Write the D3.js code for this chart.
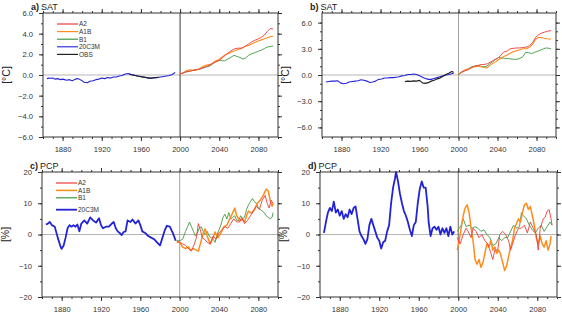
<!DOCTYPE html>
<html>
<head>
<meta charset="utf-8">
<script src="https://cdn.jsdelivr.net/npm/d3@7"></script>
<style>
  html, body { margin: 0; padding: 0; background: #fff; }
  svg { display: block; font-family: "Liberation Sans", Arial, sans-serif; }
</style>
</head>
<body>
<div id="container"></div>
<script>
// ---- data: [year, value] ----
const xTicks = [1880, 1920, 1960, 2000, 2040, 2080];
const legendNames = ['A2', 'A1B', 'B1', '20C3M', 'OBS'];

// a) SAT
const satA_20c3m = [[1864,-0.35],[1866,-0.3],[1868,-0.32],[1870,-0.3],[1872,-0.4],[1875,-0.35],[1878,-0.45],[1880,-0.4],[1882,-0.45],[1884,-0.5],[1887,-0.45],[1890,-0.55],[1893,-0.4],[1896,-0.35],[1899,-0.5],[1902,-0.7],[1905,-0.75],[1908,-0.6],[1911,-0.55],[1914,-0.45],[1917,-0.4],[1920,-0.3],[1923,-0.35],[1926,-0.25],[1929,-0.3],[1932,-0.2],[1935,-0.2],[1938,-0.1],[1941,-0.05],[1944,0.1],[1947,0.15],[1950,0.05],[1953,0.0],[1956,-0.1],[1959,-0.15],[1962,-0.2],[1965,-0.25],[1968,-0.3],[1971,-0.3],[1974,-0.25],[1977,-0.25],[1980,-0.2],[1983,-0.15],[1986,-0.1],[1989,-0.05],[1992,0.05],[1995,0.25]];
const satA_obs = [[1948,0.1],[1951,0.0],[1954,-0.05],[1957,-0.1],[1960,-0.15],[1963,-0.2],[1966,-0.25],[1969,-0.3],[1972,-0.28],[1975,-0.25],[1978,-0.22]];
const satA_a2 = [[2000,0.1],[2003,0.2],[2006,0.3],[2010,0.35],[2013,0.45],[2016,0.5],[2020,0.6],[2023,0.7],[2026,0.8],[2030,0.95],[2033,1.1],[2036,1.25],[2040,1.4],[2043,1.65],[2046,1.9],[2050,2.2],[2053,2.4],[2056,2.55],[2060,2.6],[2063,2.6],[2066,2.75],[2070,3.0],[2073,3.2],[2076,3.35],[2080,3.5],[2083,3.65],[2086,3.85],[2089,4.2],[2092,4.5],[2095,4.45]];
const satA_a1b = [[2000,0.1],[2003,0.2],[2006,0.4],[2010,0.5],[2013,0.45],[2016,0.45],[2020,0.6],[2023,0.8],[2026,0.95],[2030,1.0],[2033,1.15],[2036,1.35],[2040,1.5],[2043,1.75],[2046,1.95],[2050,2.1],[2053,2.25],[2056,2.35],[2060,2.5],[2063,2.6],[2066,2.75],[2070,2.85],[2073,3.0],[2076,3.15],[2080,3.3],[2083,3.4],[2086,3.5],[2089,3.6],[2092,3.7],[2095,3.75]];
const satA_b1 = [[2000,0.1],[2003,0.2],[2006,0.3],[2010,0.4],[2013,0.45],[2016,0.5],[2020,0.55],[2023,0.65],[2026,0.75],[2030,0.85],[2033,1.05],[2036,1.25],[2040,1.45],[2043,1.4],[2045,1.35],[2048,1.5],[2051,1.65],[2055,1.9],[2058,1.8],[2061,1.7],[2064,1.55],[2067,1.65],[2070,1.9],[2073,2.05],[2076,2.15],[2080,2.3],[2083,2.4],[2086,2.55],[2089,2.7],[2092,2.75],[2095,2.8]];

// b) SAT
const satB_20c3m = [[1864,-0.8],[1867,-0.75],[1870,-0.7],[1873,-0.7],[1876,-0.65],[1879,-0.9],[1882,-1.0],[1885,-0.95],[1888,-0.8],[1891,-0.75],[1894,-0.7],[1897,-0.65],[1900,-0.55],[1903,-0.6],[1906,-0.7],[1909,-0.85],[1912,-0.8],[1915,-0.7],[1918,-0.5],[1921,-0.45],[1924,-0.35],[1927,-0.35],[1930,-0.3],[1933,-0.3],[1936,-0.25],[1939,-0.2],[1942,-0.1],[1945,-0.05],[1948,0.05],[1951,0.05],[1954,0.12],[1957,0.05],[1960,-0.1],[1963,-0.25],[1966,-0.4],[1969,-0.5],[1972,-0.5],[1975,-0.4],[1978,-0.3],[1981,-0.2],[1984,-0.1],[1987,0.0],[1990,0.05],[1993,0.15],[1995,0.2]];
const satB_obs = [[1945,-0.75],[1948,-0.7],[1951,-0.72],[1954,-0.68],[1957,-0.7],[1960,-0.62],[1963,-0.9],[1966,-0.95],[1969,-0.88],[1972,-0.7],[1975,-0.6],[1978,-0.45],[1981,-0.35],[1984,-0.15],[1987,0.05],[1990,0.2],[1993,0.4],[1995,0.3]];
const satB_a2 = [[2000,0.05],[2003,0.3],[2006,0.45],[2010,0.6],[2013,0.85],[2016,1.0],[2020,1.1],[2023,1.2],[2026,1.2],[2030,1.3],[2033,1.5],[2036,1.7],[2040,1.9],[2043,2.2],[2046,2.6],[2050,2.75],[2053,3.0],[2056,3.05],[2060,3.1],[2063,3.1],[2066,3.15],[2070,3.2],[2073,3.4],[2076,3.7],[2079,4.3],[2082,4.6],[2085,4.8],[2088,4.9],[2091,5.0],[2095,5.1]];
const satB_a1b = [[2000,0.05],[2003,0.3],[2006,0.55],[2010,0.7],[2013,0.8],[2016,0.95],[2020,1.0],[2023,0.95],[2026,0.85],[2029,0.8],[2032,1.1],[2035,1.3],[2038,1.5],[2041,1.75],[2044,1.95],[2047,2.15],[2050,2.3],[2053,2.5],[2056,2.65],[2060,2.8],[2063,2.9],[2066,3.0],[2070,3.0],[2073,3.2],[2076,3.5],[2079,4.1],[2082,4.3],[2085,4.3],[2088,4.2],[2091,4.15],[2095,4.1]];
const satB_b1 = [[2000,0.05],[2003,0.35],[2006,0.5],[2010,0.7],[2013,0.9],[2016,1.0],[2020,1.1],[2023,1.0],[2026,0.95],[2029,1.0],[2032,1.3],[2035,1.5],[2038,1.8],[2041,2.0],[2044,1.95],[2047,1.9],[2050,1.9],[2053,1.85],[2056,1.8],[2060,1.8],[2063,1.9],[2066,2.1],[2069,2.6],[2072,2.55],[2075,2.45],[2078,2.6],[2081,2.7],[2084,2.85],[2087,3.0],[2090,3.1],[2093,3.05],[2095,3.0]];

// c) PCP
const pcpC_20c3m = [[1864,3.2],[1866,3.5],[1868,4.0],[1870,3.0],[1873,2.5],[1876,-1],[1879,-4],[1880,-4.6],[1882,-3.5],[1884,-1],[1886,2],[1888,3],[1890,2.5],[1892,3],[1894,2.5],[1896,3.2],[1898,1.0],[1900,3.5],[1903,4.5],[1906,3.5],[1909,5.5],[1912,4.5],[1915,3.8],[1918,5.2],[1920,3.0],[1922,2.0],[1925,2.5],[1928,2.5],[1931,3.5],[1933,4.0],[1935,2.0],[1937,1.0],[1939,0.5],[1941,-0.2],[1943,0.8],[1945,1.0],[1947,4.5],[1950,4.0],[1952,4.8],[1955,3.5],[1958,4.5],[1960,3.0],[1962,1.0],[1965,0.5],[1968,-0.5],[1971,-1.0],[1974,-1.5],[1977,-2.5],[1980,-3.5],[1982,-1.5],[1985,1.5],[1987,2.8],[1990,2.5],[1993,0.5],[1996,-2]];
const pcpC_a2 = [[1997,-2],[2000,-2.5],[2003,-3],[2006,-3.5],[2009,-4.5],[2012,-5.3],[2015,-3],[2017,-1],[2019,3.5],[2021,1.5],[2023,-1],[2025,-1.5],[2028,-2.5],[2031,-3],[2034,-0.5],[2037,-1.5],[2040,0.5],[2043,1.5],[2046,2.5],[2049,2],[2052,3.5],[2055,5],[2058,4],[2061,4],[2063,5.5],[2066,3.5],[2069,4.5],[2072,6],[2075,7.5],[2078,9],[2081,8],[2084,11],[2087,12.5],[2089,10],[2091,8.5],[2093,11],[2095,10]];
const pcpC_a1b = [[1997,-2.5],[2000,-2.5],[2003,-4],[2006,-4.5],[2009,-4],[2011,-5],[2014,-4.5],[2017,-5],[2019,-5.3],[2021,-3],[2024,0.5],[2026,1.8],[2028,-0.5],[2031,-3],[2034,-1],[2036,0.8],[2039,-1],[2042,0.5],[2045,2.5],[2048,3],[2051,5],[2054,7],[2056,8.5],[2058,6],[2061,4.5],[2064,4.8],[2066,4],[2068,6],[2070,7.5],[2073,6.8],[2076,8],[2079,10],[2082,11],[2085,12.5],[2088,14.5],[2090,14],[2092,11],[2094,9],[2095,10]];
const pcpC_b1 = [[1997,-2],[2000,-2],[2003,-1.5],[2006,1],[2008,2.5],[2010,4],[2012,2.5],[2014,1],[2016,-0.5],[2018,0.5],[2020,2],[2022,2.5],[2024,1],[2026,0],[2028,1],[2030,-0.5],[2032,-1],[2034,-1.5],[2036,-2.5],[2038,0],[2040,1.5],[2042,3],[2044,5.5],[2046,6.5],[2048,5],[2050,7],[2052,5],[2054,5.5],[2056,6],[2058,4.5],[2060,4.5],[2062,6],[2064,5],[2066,5.5],[2068,8],[2070,9.5],[2072,10.5],[2074,11.5],[2076,10.5],[2078,10],[2080,8.5],[2082,8],[2084,7.5],[2086,7],[2088,6],[2090,5.5],[2092,5],[2094,5.5],[2095,7]];

// d) PCP
const pcpD_20c3m = [[1864,0.5],[1866,4],[1868,7],[1870,8.5],[1872,7.5],[1874,10.5],[1876,7],[1878,8],[1880,6],[1882,7.5],[1884,5],[1886,6.5],[1888,5.5],[1890,8],[1892,6.5],[1894,8.5],[1896,9],[1898,5],[1900,1],[1902,-0.5],[1904,-1.5],[1906,-3],[1908,-1.5],[1910,3],[1912,5],[1914,3],[1916,1],[1918,-1],[1920,-2],[1922,-4.5],[1924,-2.5],[1926,-2],[1928,1],[1930,3],[1932,10],[1934,15],[1936,18],[1937,20],[1939,17],[1941,13],[1943,10],[1945,7.5],[1947,6],[1949,4],[1951,1.5],[1953,-0.5],[1955,3],[1957,4],[1959,10],[1961,14.5],[1963,17],[1965,15],[1967,15],[1969,9],[1970,4],[1972,-0.5],[1974,2],[1976,2.5],[1978,1.5],[1980,2.5],[1982,0],[1984,2],[1986,0.5],[1988,2],[1990,-0.5],[1992,2.5],[1994,0],[1996,1]];
const pcpD_a2 = [[1999,-1],[2002,-3],[2005,0],[2008,2],[2010,1],[2013,-1],[2015,2],[2018,1],[2021,-1],[2024,0],[2027,-2],[2030,-3],[2033,-6],[2035,-8],[2037,-5],[2040,-5],[2042,0],[2045,1],[2048,0],[2051,-2],[2053,-5],[2055,-3],[2058,0],[2061,2],[2064,2],[2067,3],[2070,0.5],[2073,4],[2076,2],[2079,0],[2081,-5],[2083,2],[2086,5],[2088,5.5],[2090,7.5],[2092,8],[2094,5],[2095,3]];
const pcpD_a1b = [[1999,-5],[2001,-2],[2003,2],[2005,6],[2007,8.5],[2009,9.5],[2011,7],[2013,2],[2015,-2],[2017,-8],[2019,-9.5],[2021,-8],[2023,-10.5],[2025,-9],[2027,-6],[2029,-3],[2031,-4],[2033,-2],[2035,-5],[2037,-4],[2039,-6],[2041,-5],[2043,-6.5],[2045,-9],[2047,-11.5],[2049,-10],[2051,-7],[2053,-4],[2055,-2],[2057,2],[2059,3.5],[2061,5],[2063,4],[2065,7],[2067,9.5],[2069,10],[2071,8],[2073,9],[2075,6],[2077,3],[2079,-1],[2081,-3],[2083,-0.5],[2085,-3],[2087,-4],[2089,-2],[2091,-5],[2093,-3],[2094,-0.5]];
const pcpD_b1 = [[1999,1],[2001,2],[2003,3],[2005,5],[2008,2.5],[2011,3],[2014,2],[2017,2.5],[2020,2],[2023,1],[2026,1.5],[2029,0],[2032,-1],[2035,-3.5],[2038,-3],[2041,-1],[2044,-2],[2047,-1],[2050,-1],[2053,1],[2056,3],[2059,2],[2062,2.5],[2064,7],[2066,6],[2069,5],[2072,3],[2075,1.5],[2078,0.5],[2081,2],[2084,3],[2087,1],[2090,2.5],[2093,4],[2095,3]];

// ---- styles ----
const colors = { A2: '#ee3b3b', A1B: '#ff8c1a', B1: '#3f9a3f', '20C3M': '#2323d6', OBS: '#222222' };

const panels = [
  { tag: 'a)', name: 'SAT', unit: '[°C]', left: 43, right: 278, top: 13, bottom: 137,
    yDom: [-6, 6], yTicks: [-6, -4, -2, 0, 2, 4, 6], yMinor: 1, fmt: d3.format('.1f'),
    midColor: '#222', hist: satA_20c3m, obs: satA_obs, a2: satA_a2, a1b: satA_a1b, b1: satA_b1,
    histW: 1.1, legend: { x: 57, y: 24, dy: 7.6, names: legendNames } },
  { tag: 'b)', name: 'SAT', unit: '[°C]', left: 322, right: 556, top: 13, bottom: 137,
    yDom: [-7.1, 7.1], yTicks: [-6, -3, 0, 3, 6], yMinor: 1, fmt: d3.format('.1f'),
    midColor: '#999', hist: satB_20c3m, obs: satB_obs, a2: satB_a2, a1b: satB_a1b, b1: satB_b1,
    histW: 1.1 },
  { tag: 'c)', name: 'PCP', unit: '[%]', left: 42, right: 278, top: 172, bottom: 297,
    yDom: [-20, 20], yTicks: [-20, -10, 0, 10, 20], yMinor: 5, fmt: d3.format('d'),
    midColor: '#999', hist: pcpC_20c3m, a2: pcpC_a2, a1b: pcpC_a1b, b1: pcpC_b1,
    histW: 1.8, legend: { x: 56, y: 183, dy: 7.4, names: legendNames.slice(0, 4), gapLast: 4.5 } },
  { tag: 'd)', name: 'PCP', unit: '[%]', left: 320, right: 557, top: 172, bottom: 297,
    yDom: [-20, 20], yTicks: [-20, -10, 0, 10, 20], yMinor: 5, fmt: d3.format('d'),
    midColor: '#555', hist: pcpD_20c3m, a2: pcpD_a2, a1b: pcpD_a1b, b1: pcpD_b1,
    histW: 1.8 }
];

const svg = d3.select('#container').append('svg')
  .attr('width', 562).attr('height', 316);

panels.forEach(p => {
  const x = d3.scaleLinear().domain([1860, 2100]).range([p.left, p.right]);
  const y = d3.scaleLinear().domain(p.yDom).range([p.bottom, p.top]);
  const g = svg.append('g');

  // zero line and year 2000 line
  g.append('line')
    .attr('x1', p.left).attr('x2', p.right).attr('y1', y(0)).attr('y2', y(0))
    .attr('stroke', '#b5b5b5').attr('stroke-width', 1);
  g.append('line')
    .attr('x1', x(2000)).attr('x2', x(2000)).attr('y1', p.top).attr('y2', p.bottom)
    .attr('stroke', p.midColor).attr('stroke-width', 0.9);

  // series
  const line = d3.line().x(d => x(d[0])).y(d => y(d[1]));
  const isPcp = p.name === 'PCP';
  const draw = (data, color, w) => g.append('path').datum(data)
    .attr('fill', 'none').attr('stroke', color).attr('stroke-width', w)
    .attr('stroke-linejoin', 'round').attr('d', line);
  draw(p.hist, colors['20C3M'], p.histW);
  if (p.obs) draw(p.obs, colors.OBS, 1.2);
  draw(p.b1, colors.B1, 0.9);
  draw(p.a1b, colors.A1B, isPcp ? 1.5 : 1.1);
  draw(p.a2, colors.A2, 0.9);

  // frame
  g.append('rect')
    .attr('x', p.left).attr('y', p.top)
    .attr('width', p.right - p.left).attr('height', p.bottom - p.top)
    .attr('fill', 'none').attr('stroke', '#333').attr('stroke-width', 1);

  // axes: ticks outward on all four sides
  const yMinorTicks = d3.range(p.yTicks[0], p.yTicks[p.yTicks.length - 1] + 1e-9, p.yMinor);
  const xMinorTicks = d3.range(1860, 2101, 10);
  const axStyle = sel => {
    sel.select('.domain').remove();
    sel.selectAll('line').attr('stroke', '#333');
    sel.selectAll('text').attr('fill', '#333').style('font-size', '7.6px')
      .style('font-family', '"Liberation Sans", Arial, sans-serif');
  };
  g.append('g').attr('transform', `translate(0,${p.bottom})`)
    .call(d3.axisBottom(x).tickValues(xMinorTicks).tickSize(2).tickFormat(''))
    .call(axStyle);
  g.append('g').attr('transform', `translate(0,${p.bottom})`)
    .call(d3.axisBottom(x).tickValues(xTicks).tickSize(4).tickPadding(6).tickFormat(d3.format('d')))
    .call(axStyle);
  g.append('g').attr('transform', `translate(0,${p.top})`)
    .call(d3.axisTop(x).tickValues(xMinorTicks).tickSize(2).tickFormat(''))
    .call(axStyle);
  g.append('g').attr('transform', `translate(0,${p.top})`)
    .call(d3.axisTop(x).tickValues(xTicks).tickSize(4).tickFormat(''))
    .call(axStyle);
  g.append('g').attr('transform', `translate(${p.left},0)`)
    .call(d3.axisLeft(y).tickValues(yMinorTicks).tickSize(2).tickFormat(''))
    .call(axStyle);
  g.append('g').attr('transform', `translate(${p.left},0)`)
    .call(d3.axisLeft(y).tickValues(p.yTicks).tickSize(4).tickPadding(6).tickFormat(p.fmt))
    .call(axStyle);
  g.append('g').attr('transform', `translate(${p.right},0)`)
    .call(d3.axisRight(y).tickValues(yMinorTicks).tickSize(2).tickFormat(''))
    .call(axStyle);
  g.append('g').attr('transform', `translate(${p.right},0)`)
    .call(d3.axisRight(y).tickValues(p.yTicks).tickSize(4).tickFormat(''))
    .call(axStyle);

  // title
  const t = g.append('text').attr('x', p.left - 12).attr('y', p.top - 3.5)
    .style('font-size', '9px').attr('fill', '#222');
  t.append('tspan').style('font-weight', 'bold').text(p.tag);
  t.append('tspan').attr('dx', 2).text(p.name);

  // y axis label
  g.append('text')
    .attr('transform', `translate(${p.left - 33},${(p.top + p.bottom) / 2}) rotate(-90)`)
    .attr('text-anchor', 'middle').style('font-size', '10.5px').attr('fill', '#222')
    .text(p.unit);

  // legend
  if (p.legend) {
    const L = p.legend;
    L.names.forEach((n, i) => {
      const yy = L.y + i * L.dy + (L.gapLast && i === L.names.length - 1 ? L.gapLast : 0);
      const w = n === '20C3M' ? p.histW : (n === 'A1B' && isPcp ? 1.5 : 1.2);
      g.append('line').attr('x1', L.x).attr('x2', L.x + 21).attr('y1', yy).attr('y2', yy)
        .attr('stroke', colors[n]).attr('stroke-width', w);
      g.append('text').attr('x', L.x + 22).attr('y', yy + 2.3)
        .style('font-size', '6.5px').attr('fill', '#333').text(n);
    });
  }
});
</script>
</body>
</html>
